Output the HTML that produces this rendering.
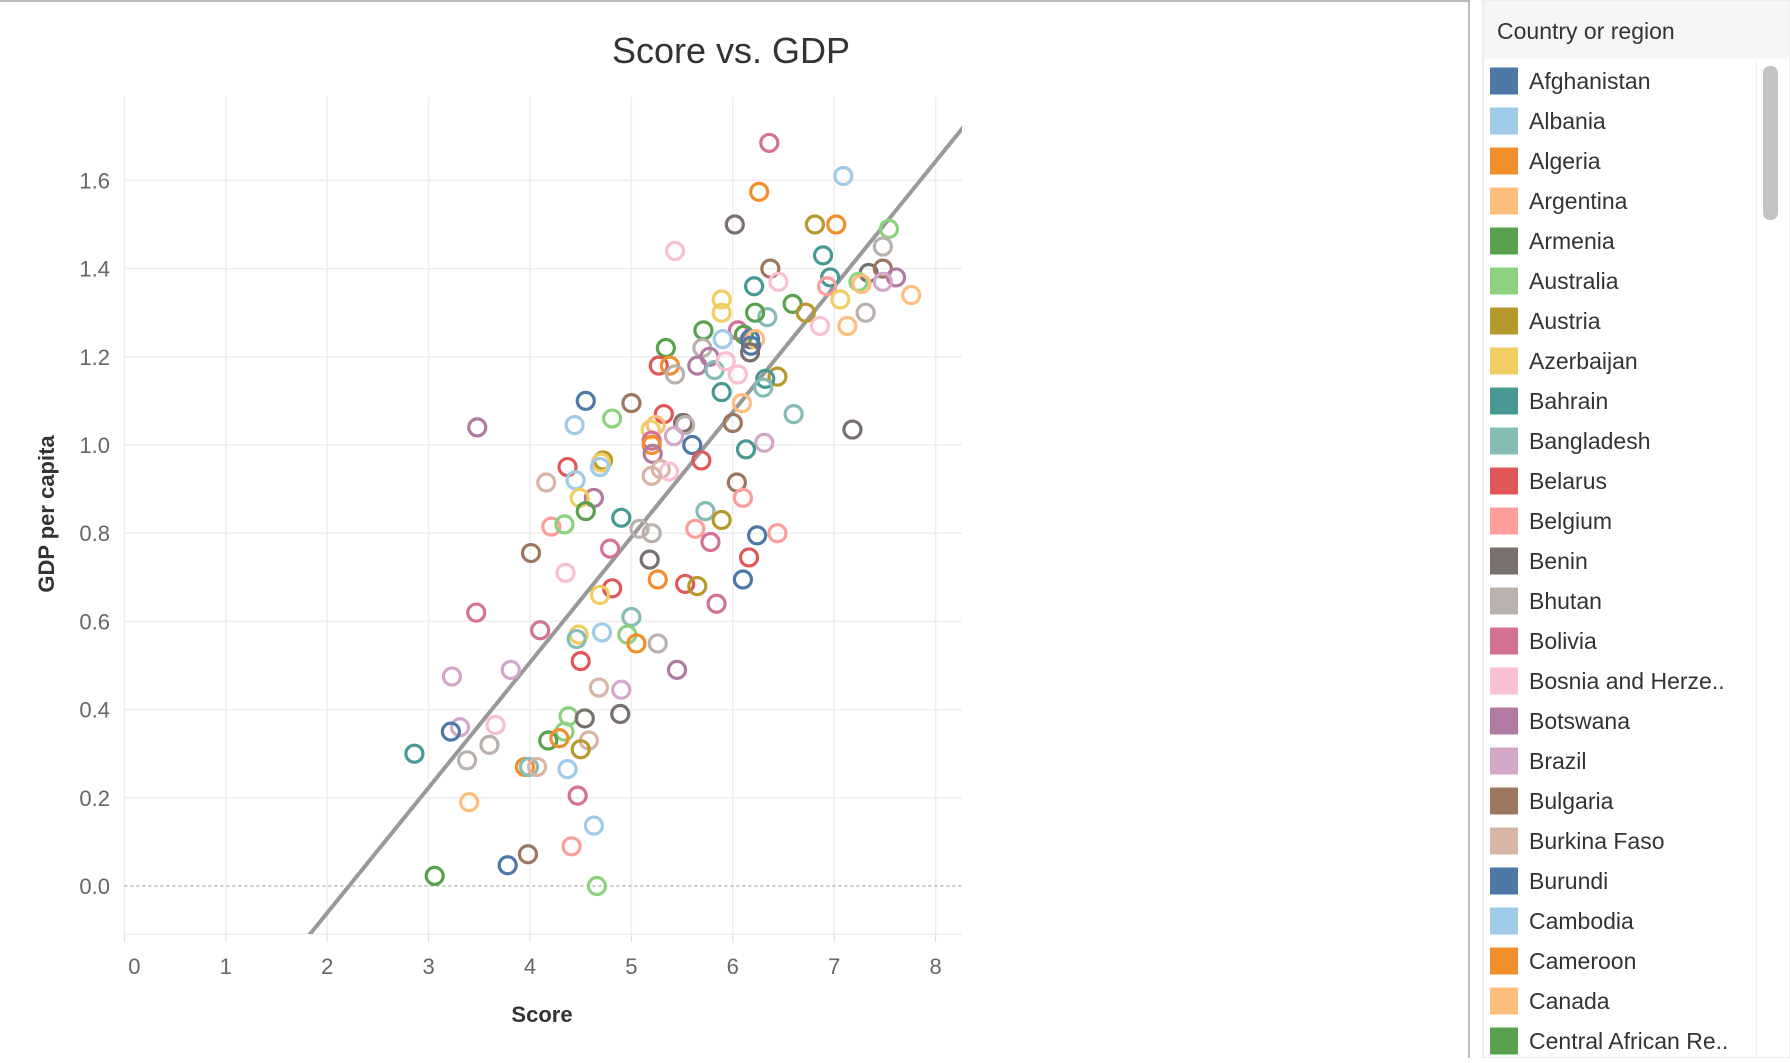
<!DOCTYPE html>
<html><head><meta charset="utf-8"><style>
body{margin:0;width:1790px;height:1058px;background:#fff;overflow:hidden;font-family:"Liberation Sans",sans-serif}
svg text{font-family:"Liberation Sans",sans-serif}
</style></head><body>
<svg id="chart" width="1790" height="1058" viewBox="0 0 1790 1058" xmlns="http://www.w3.org/2000/svg">
<defs><clipPath id="plotclip"><rect x="124" y="97" width="838" height="837"/></clipPath></defs>
<line x1="0" y1="1" x2="1469" y2="1" stroke="#bbb" stroke-width="2"/>
<line x1="1469" y1="0" x2="1469" y2="1058" stroke="#bbb" stroke-width="2"/>
<text x="731" y="63" text-anchor="middle" font-size="36" fill="#333">Score vs. GDP</text>
<g id="grid"></g><g id="axes"></g>
<g id="reg" clip-path="url(#plotclip)"></g>
<g id="pts"></g>
<text x="542" y="1022" text-anchor="middle" font-size="22" font-weight="bold" fill="#333">Score</text>
<text transform="translate(54,514) rotate(-90)" text-anchor="middle" font-size="22" font-weight="bold" fill="#333">GDP per capita</text>
<g>
<rect x="1483" y="0" width="307" height="1058" fill="#fff" stroke="#ddd"/>
<rect x="1484" y="1" width="305" height="58" fill="#f6f6f6"/>
<text x="1497" y="39" font-size="23" fill="#333">Country or region</text>
<rect x="1756" y="60" width="1" height="998" fill="#eee"/>
<rect x="1763" y="66" width="15" height="154" rx="7" fill="#c4c4c4"/>
<g id="legend"></g>
</g>
</svg>
<script>
const xTicks=[0,1,2,3,4,5,6,7,8];
const yTicks=[0,0.2,0.4,0.6,0.8,1.0,1.2,1.4,1.6];
const palette=["#4e79a7","#a0cbe8","#f28e2b","#ffbe7d","#59a14f","#8cd17d","#b6992d","#f1ce63","#499894","#86bcb6","#e15759","#ff9d9a","#79706e","#bab0ac","#d37295","#fabfd2","#b07aa1","#d4a6c8","#9d7660","#d7b5a6"];
const countries=["Afghanistan","Albania","Algeria","Argentina","Armenia","Australia","Austria","Azerbaijan","Bahrain","Bangladesh","Belarus","Belgium","Benin","Bhutan","Bolivia","Bosnia and Herze..","Botswana","Brazil","Bulgaria","Burkina Faso","Burundi","Cambodia","Cameroon","Canada","Central African Re.."];
const regSlope=0.284, regIntercept=-0.629;
const scores=[6.36,7.09,6.26,6.02,6.81,7.02,7.54,5.43,7.48,6.89,6.37,6.45,6.21,6.96,6.93,7.34,7.48,7.61,7.48,7.24,7.27,7.76,7.06,5.89,5.89,6.59,6.72,7.31,6.34,6.22,7.13,6.86,5.71,6.05,6.11,6.17,6.22,5.90,6.18,6.17,5.70,5.34,5.77,5.65,5.82,5.93,5.27,5.38,5.43,6.05,6.44,6.32,6.30,5.89,6.09,4.55,5.0,6.60,5.32,5.51,5.53,6.0,4.81,4.44,3.48,5.19,5.24,5.42,5.60,5.20,5.20,5.21,6.31,6.13,4.72,4.70,5.69,4.37,5.29,5.37,4.69,5.20,4.45,4.16,6.04,6.10,4.63,4.49,4.55,5.73,4.90,5.89,4.21,4.34,5.08,5.20,5.63,6.24,6.44,5.78,4.79,4.01,5.18,6.16,4.35,5.26,6.10,5.53,5.65,4.81,4.69,5.84,3.47,5.0,4.10,4.71,4.48,4.46,4.96,5.05,5.26,4.50,5.45,3.81,3.23,4.68,4.90,4.89,4.38,4.54,3.31,3.66,3.22,4.34,4.18,4.29,4.58,4.50,2.86,3.60,3.38,3.95,3.99,4.07,4.37,4.47,3.40,4.63,4.41,3.98,3.78,3.06,4.66,7.18];
const gdps=[1.685,1.61,1.574,1.50,1.50,1.50,1.49,1.44,1.45,1.43,1.40,1.37,1.36,1.38,1.36,1.39,1.40,1.38,1.37,1.37,1.365,1.34,1.33,1.33,1.30,1.32,1.30,1.30,1.29,1.30,1.27,1.27,1.26,1.26,1.25,1.24,1.24,1.24,1.225,1.21,1.22,1.22,1.20,1.18,1.17,1.19,1.18,1.18,1.16,1.16,1.155,1.15,1.13,1.12,1.095,1.10,1.095,1.07,1.07,1.05,1.045,1.05,1.06,1.045,1.04,1.035,1.045,1.02,1.00,1.01,1.00,0.98,1.005,0.99,0.965,0.96,0.965,0.95,0.945,0.94,0.95,0.93,0.92,0.915,0.915,0.88,0.88,0.88,0.85,0.85,0.835,0.83,0.815,0.82,0.81,0.80,0.81,0.795,0.80,0.78,0.765,0.755,0.74,0.745,0.71,0.695,0.695,0.685,0.68,0.675,0.66,0.64,0.62,0.61,0.58,0.575,0.57,0.56,0.57,0.55,0.55,0.51,0.49,0.49,0.475,0.45,0.445,0.39,0.385,0.38,0.36,0.365,0.35,0.35,0.33,0.335,0.33,0.31,0.30,0.32,0.285,0.27,0.27,0.27,0.265,0.205,0.19,0.137,0.09,0.072,0.047,0.023,0.0,1.035];
const colorIdx=[14,1,2,12,6,2,5,15,13,8,18,15,8,8,11,12,18,16,17,5,3,3,7,7,7,4,6,13,9,4,3,15,4,14,4,0,3,1,0,12,13,4,16,16,9,15,10,2,13,15,6,8,9,8,3,0,18,9,10,12,13,18,5,1,16,7,3,17,0,14,2,16,17,8,6,7,10,10,19,15,1,19,1,19,18,11,16,7,4,9,8,6,11,5,13,13,11,0,11,14,14,18,12,10,15,2,0,10,6,10,7,14,14,9,14,1,7,9,5,2,13,10,16,17,17,19,17,12,5,12,17,15,0,5,4,2,19,6,8,13,13,2,9,19,1,14,3,1,11,18,0,4,5,12];
const NS="http://www.w3.org/2000/svg";
const X0=124.4,XU=101.4,Y0=886,YU=441,XMIN=0,XMAX=8.26,YMIN=-0.109,YMAX=1.789;
const xs=v=>X0+(v-XMIN)*XU, ys=v=>Y0-v*YU;
function mk(t,a,p){const e=document.createElementNS(NS,t);for(const k in a)e.setAttribute(k,a[k]);p.appendChild(e);return e;}
const grid=document.getElementById('grid'),axes=document.getElementById('axes');
xTicks.forEach(t=>{const l=mk('line',{x1:xs(t),x2:xs(t),y1:ys(YMAX),y2:ys(YMIN),stroke:'#eeeeee','stroke-width':1.5},grid);


const tk=mk('line',{x1:xs(t),x2:xs(t),y1:ys(YMIN),y2:ys(YMIN)+8,stroke:'#ddd'},axes);


const tx=mk('text',{x:xs(t)+(t===0?10:0),y:974,'text-anchor':'middle','font-size':22,fill:'#666'},axes);tx.textContent=t;

});
yTicks.forEach(t=>{const l=mk('line',{x1:xs(XMIN),x2:xs(XMAX),y1:ys(t),y2:ys(t),stroke:t===0?'#aaa':'#eeeeee','stroke-width':t===0?1.2:1.5,'stroke-dasharray':t===0?'3,3':'none'},grid);


const tx=mk('text',{x:110,y:ys(t)+8,'text-anchor':'end','font-size':22,fill:'#666'},axes);tx.textContent=t.toFixed(1);

});
const bl=mk('line',{x1:xs(XMIN),x2:xs(XMAX),y1:ys(YMIN),y2:ys(YMIN),stroke:'#e6e6e6'},axes);


const rl=mk('line',{x1:xs(1.5),y1:ys(regSlope*1.5+regIntercept),x2:xs(8.5),y2:ys(regSlope*8.5+regIntercept),stroke:'#999','stroke-width':4},document.getElementById('reg'));


const pts=document.getElementById('pts');
scores.forEach((s,i)=>{const c=mk('circle',{cx:xs(s),cy:ys(gdps[i]),r:8.5,fill:'none',stroke:palette[colorIdx[i]%20],'stroke-width':3.2},pts);

});
const lg=document.getElementById('legend');
countries.forEach((n,i)=>{const y=81+i*40.0;
const r=mk('rect',{x:1490,y:y-13.5,width:28,height:27,fill:palette[i%20]},lg);


const t=mk('text',{x:1529,y:y+8,'font-size':23,fill:'#333'},lg);t.textContent=n;

});
</script>
</body></html>
